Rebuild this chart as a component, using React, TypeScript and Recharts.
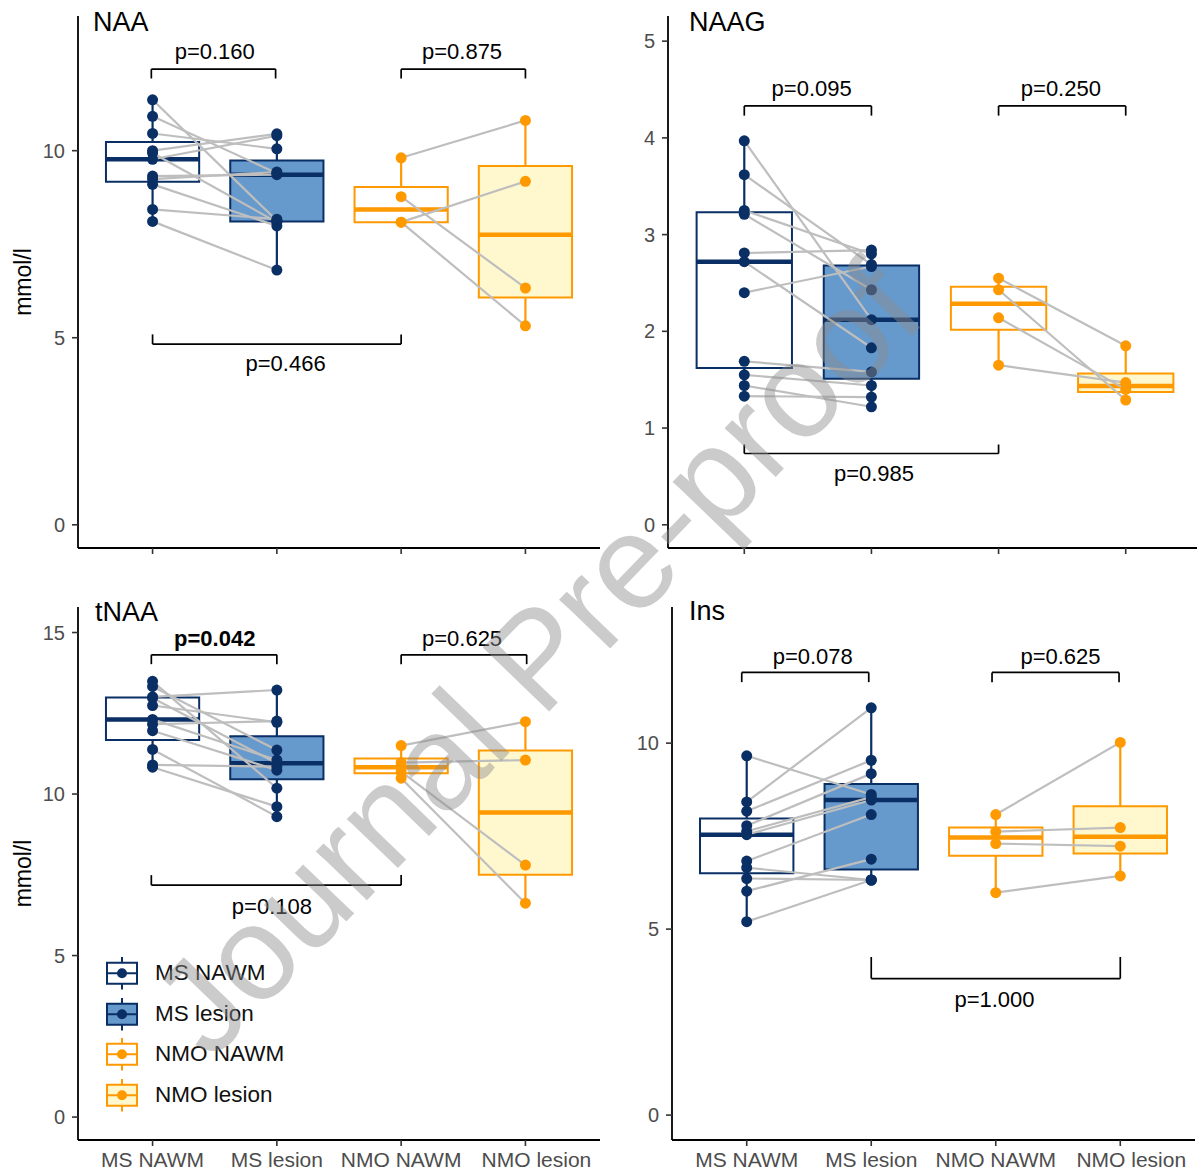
import React from 'react';
import {
  ComposedChart,
  XAxis,
  YAxis,
  Scatter,
  ReferenceArea,
  ReferenceLine,
  ReferenceDot,
  Legend,
} from 'recharts';

const FONT = '"Liberation Sans", Arial, Helvetica, sans-serif';
const NAVY = '#0A2F64';
const ORANGE = '#FF9900';
const PAIR_GREY = '#BEBEBE';
const HALF = 0.375; // half box width, in category units

const groupNames = ['MS NAWM', 'MS lesion', 'NMO NAWM', 'NMO lesion'];
const groupStroke = [NAVY, NAVY, ORANGE, ORANGE];
const groupFill = ['#FFFFFF', '#6699CC', '#FFFFFF', '#FFF8CE'];

// mmol/l per subject; NAWM and lesion arrays keep the same subject order (paired)
const naaMsNawm = [11.36, 10.92, 10.46, 10.0, 9.94, 9.77, 9.32, 9.24, 9.1, 8.43, 8.11];
const naaMsLesion = [8.13, 9.4, 10.05, 10.45, 8.09, 10.4, 9.36, 9.43, 7.99, 8.17, 6.81];
const naaNmoNawm = [9.81, 8.77, 8.09, 8.09];
const naaNmoLesion = [10.81, 6.33, 9.18, 5.32];

const naagMsNawm = [3.97, 3.62, 3.25, 3.21, 2.81, 2.72, 2.4, 1.69, 1.55, 1.44, 1.33];
const naagMsLesion = [2.12, 2.69, 2.8, 2.43, 2.84, 1.83, 2.67, 1.58, 1.44, 1.22, 1.32];
const naagNmoNawm = [2.55, 2.43, 2.14, 1.65];
const naagNmoLesion = [1.85, 1.29, 1.4, 1.47];

const tnaaMsNawm = [13.49, 13.33, 13.01, 12.97, 12.74, 12.31, 12.16, 11.96, 11.38, 10.9, 10.83];
const tnaaMsLesion = [10.18, 11.36, 13.22, 10.95, 12.22, 11.05, 12.26, 10.74, 9.3, 10.85, 9.61];
const tnaaNmoNawm = [11.5, 10.97, 10.69, 10.49];
const tnaaNmoLesion = [12.24, 11.05, 7.8, 6.62];

const insMsNawm = [9.66, 8.42, 8.17, 7.78, 7.63, 7.54, 6.83, 6.65, 6.36, 6.02, 5.2];
const insMsLesion = [8.62, 10.95, 9.54, 9.18, 8.55, 8.47, 8.08, 6.32, 6.32, 6.88, 6.32];
const insNmoNawm = [8.08, 7.62, 7.3, 5.98];
const insNmoLesion = [10.02, 7.73, 7.23, 6.43];

type Bracket = {
  from: number;
  to: number;
  y: number;
  tip: number;
  text: string;
  tx: number;
  ty: number;
  bold?: boolean;
};

const naaBrackets: Bracket[] = [
  { from: 0.99, to: 1.99, y: 12.18, tip: 11.93, text: 'p=0.160', tx: 1.5, ty: 12.66 },
  { from: 3, to: 4, y: 12.18, tip: 11.93, text: 'p=0.875', tx: 3.49, ty: 12.66 },
  { from: 1, to: 3, y: 4.83, tip: 5.09, text: 'p=0.466', tx: 2.07, ty: 4.31 },
];
const naagBrackets: Bracket[] = [
  { from: 1, to: 2, y: 4.33, tip: 4.23, text: 'p=0.095', tx: 1.53, ty: 4.51 },
  { from: 3, to: 4, y: 4.33, tip: 4.23, text: 'p=0.250', tx: 3.49, ty: 4.51 },
  { from: 1, to: 3, y: 0.737, tip: 0.83, text: 'p=0.985', tx: 2.02, ty: 0.534 },
];
const tnaaBrackets: Bracket[] = [
  { from: 0.99, to: 2, y: 14.31, tip: 14.02, text: 'p=0.042', tx: 1.5, ty: 14.82, bold: true },
  { from: 3, to: 4.01, y: 14.31, tip: 14.02, text: 'p=0.625', tx: 3.49, ty: 14.82 },
  { from: 0.99, to: 3, y: 7.18, tip: 7.49, text: 'p=0.108', tx: 1.96, ty: 6.54 },
];
const insBrackets: Bracket[] = [
  { from: 0.96, to: 1.98, y: 11.9, tip: 11.64, text: 'p=0.078', tx: 1.53, ty: 12.34 },
  { from: 2.97, to: 3.99, y: 11.9, tip: 11.64, text: 'p=0.625', tx: 3.52, ty: 12.34 },
  { from: 2, to: 4, y: 3.67, tip: 4.25, text: 'p=1.000', tx: 2.99, ty: 3.11 },
];

const naaTicks = [0, 5, 10];
const naagTicks = [0, 1, 2, 3, 4, 5];
const tnaaTicks = [0, 5, 10, 15];
const insTicks = [0, 5, 10];

// type-7 quantile, same as R's default used by geom_boxplot
function quantile(sorted: number[], p: number) {
  const h = (sorted.length - 1) * p;
  const lo = Math.floor(h);
  const next = sorted[Math.min(lo + 1, sorted.length - 1)];
  return sorted[lo] + (h - lo) * (next - sorted[lo]);
}

function boxStats(values: number[]) {
  const s = [...values].sort((a, b) => a - b);
  // no outliers in any group, whiskers run to min / max
  return { lo: s[0], q1: quantile(s, 0.25), med: quantile(s, 0.5), q3: quantile(s, 0.75), hi: s[s.length - 1] };
}

// the last category label sits a little right of its tick in the original
function GroupTick(props: any) {
  const { x, y, payload } = props;
  const idx = payload.value - 1;
  const shift = idx === 3 ? 11 : 0;
  return (
    <text x={x + shift} y={y} dy="0.71em" textAnchor="middle" fill="#4D4D4D" fontSize={21}>
      {groupNames[idx]}
    </text>
  );
}

function PairLegend() {
  return (
    <div style={{ fontFamily: FONT }}>
      {groupNames.map((name, g) => (
        <div key={name} style={{ display: 'flex', alignItems: 'center', height: 40.5 }}>
          <svg width={34} height={40.5}>
            <line x1={17} x2={17} y1={4} y2={36.5} stroke={groupStroke[g]} strokeWidth={2} />
            <rect x={2} y={9.75} width={30} height={21} fill={groupFill[g]} stroke={groupStroke[g]} strokeWidth={2} />
            <line x1={2} x2={32} y1={20.25} y2={20.25} stroke={groupStroke[g]} strokeWidth={2} />
            <circle cx={17} cy={20.25} r={5} fill={groupStroke[g]} />
          </svg>
          <span style={{ marginLeft: 16, fontSize: 22.5, color: '#111' }}>{name}</span>
        </div>
      ))}
    </div>
  );
}

type PanelProps = {
  series: number[][];
  domain: [number, number];
  ticks: number[];
  brackets: Bracket[];
  width: number;
  height: number;
  margin: { top: number; right: number; bottom: number; left: number };
  xAxisHeight: number;
  showXLabels?: boolean;
  yTitle?: boolean;
  legend?: boolean;
};

function Panel({
  series,
  domain,
  ticks,
  brackets,
  width,
  height,
  margin,
  xAxisHeight,
  showXLabels,
  yTitle,
  legend,
}: PanelProps) {
  const stats = series.map(boxStats);
  const pairs: { x: number; y: number }[][] = [];
  [[0, 1], [2, 3]].forEach(([a, b]) => {
    series[a].forEach((v, i) => {
      pairs.push([
        { x: a + 1, y: v },
        { x: b + 1, y: series[b][i] },
      ]);
    });
  });

  return (
    <ComposedChart width={width} height={height} margin={margin}>
      <XAxis
        type="number"
        dataKey="x"
        domain={[0.4, 4.6]}
        allowDataOverflow
        ticks={[1, 2, 3, 4]}
        interval={0}
        tick={showXLabels ? <GroupTick /> : () => <g />}
        tickLine={{ stroke: '#333', strokeWidth: 1.6 }}
        tickSize={6}
        tickMargin={6}
        axisLine={{ stroke: '#000', strokeWidth: 1.8 }}
        height={xAxisHeight}
      />
      <YAxis
        type="number"
        dataKey="y"
        domain={domain}
        allowDataOverflow
        ticks={ticks}
        interval={0}
        width={60}
        tick={{ fill: '#4D4D4D', fontSize: 20 }}
        tickLine={{ stroke: '#333', strokeWidth: 1.6 }}
        tickSize={6}
        tickMargin={7}
        axisLine={{ stroke: '#000', strokeWidth: 1.8 }}
        label={
          yTitle
            ? {
                value: 'mmol/l',
                angle: -90,
                position: 'insideLeft',
                offset: 5,
                fill: '#000',
                fontSize: 23,
                style: { textAnchor: 'middle' },
              }
            : undefined
        }
      />

      {stats.map((s, g) => (
        <ReferenceLine
          key={`wu${g}`}
          segment={[
            { x: g + 1, y: s.q3 },
            { x: g + 1, y: s.hi },
          ]}
          stroke={groupStroke[g]}
          strokeWidth={2.2}
          ifOverflow="visible"
          zIndex={100}
        />
      ))}
      {stats.map((s, g) => (
        <ReferenceLine
          key={`wl${g}`}
          segment={[
            { x: g + 1, y: s.lo },
            { x: g + 1, y: s.q1 },
          ]}
          stroke={groupStroke[g]}
          strokeWidth={2.2}
          ifOverflow="visible"
          zIndex={100}
        />
      ))}
      {stats.map((s, g) => (
        <ReferenceArea
          key={`box${g}`}
          x1={g + 1 - HALF}
          x2={g + 1 + HALF}
          y1={s.q1}
          y2={s.q3}
          fill={groupFill[g]}
          fillOpacity={1}
          stroke={groupStroke[g]}
          strokeWidth={2}
          ifOverflow="visible"
          zIndex={110}
        />
      ))}
      {stats.map((s, g) => (
        <ReferenceLine
          key={`med${g}`}
          segment={[
            { x: g + 1 - HALF, y: s.med },
            { x: g + 1 + HALF, y: s.med },
          ]}
          stroke={groupStroke[g]}
          strokeWidth={4.5}
          ifOverflow="visible"
          zIndex={120}
        />
      ))}

      {pairs.map((pts, k) => (
        <Scatter
          key={`pair${k}`}
          data={pts}
          line={{ stroke: PAIR_GREY, strokeWidth: 2.2 }}
          stroke={PAIR_GREY}
          fill={PAIR_GREY}
          shape={() => <g />}
          legendType="none"
          isAnimationActive={false}
          zIndex={200}
        />
      ))}

      {series.map((vals, g) => (
        <Scatter
          key={`pts${g}`}
          data={vals.map((v) => ({ x: g + 1, y: v }))}
          fill={groupStroke[g]}
          shape={(p: any) => <circle cx={p.cx} cy={p.cy} r={5.5} fill={groupStroke[g]} />}
          legendType="none"
          isAnimationActive={false}
          zIndex={300}
        />
      ))}

      {brackets.map((b, k) => (
        <ReferenceLine
          key={`bh${k}`}
          segment={[
            { x: b.from, y: b.y },
            { x: b.to, y: b.y },
          ]}
          stroke="#000"
          strokeWidth={1.7}
          ifOverflow="visible"
          zIndex={400}
        />
      ))}
      {brackets.map((b, k) => (
        <ReferenceLine
          key={`bl${k}`}
          segment={[
            { x: b.from, y: b.y },
            { x: b.from, y: b.tip },
          ]}
          stroke="#000"
          strokeWidth={1.7}
          ifOverflow="visible"
          zIndex={400}
        />
      ))}
      {brackets.map((b, k) => (
        <ReferenceLine
          key={`br${k}`}
          segment={[
            { x: b.to, y: b.y },
            { x: b.to, y: b.tip },
          ]}
          stroke="#000"
          strokeWidth={1.7}
          ifOverflow="visible"
          zIndex={400}
        />
      ))}
      {brackets.map((b, k) => (
        <ReferenceDot
          key={`bt${k}`}
          x={b.tx}
          y={b.ty}
          r={0}
          fill="none"
          stroke="none"
          ifOverflow="visible"
          zIndex={400}
          label={{
            value: b.text,
            position: 'center',
            fill: '#000',
            fontSize: 22,
            fontWeight: b.bold ? 700 : 400,
          }}
        />
      ))}

      {legend && (
        <Legend
          layout="vertical"
          align="center"
          verticalAlign="middle"
          content={() => <PairLegend />}
          wrapperStyle={{ position: 'absolute', left: 105, top: 363, width: 'auto', height: 'auto' }}
        />
      )}
    </ComposedChart>
  );
}

const titles = [
  { text: 'NAA', x: 93, y: 31 },
  { text: 'NAAG', x: 689, y: 31 },
  { text: 'tNAA', x: 95, y: 621 },
  { text: 'Ins', x: 689, y: 620 },
];

export default function App() {
  return (
    <div
      style={{
        position: 'absolute',
        left: 0,
        top: 0,
        width: 1197,
        height: 1171,
        overflow: 'hidden',
        background: '#fff',
        fontFamily: FONT,
      }}
    >
      <div style={{ position: 'absolute', left: 0, top: 0 }}>
        <Panel
          series={[naaMsNawm, naaMsLesion, naaNmoNawm, naaNmoLesion]}
          domain={[-0.62, 13.6]}
          ticks={naaTicks}
          brackets={naaBrackets}
          width={600}
          height={580}
          margin={{ top: 16, right: 0, bottom: 0, left: 18 }}
          xAxisHeight={32}
          yTitle
        />
      </div>
      <div style={{ position: 'absolute', left: 600, top: 0 }}>
        <Panel
          series={[naagMsNawm, naagMsLesion, naagNmoNawm, naagNmoLesion]}
          domain={[-0.24, 5.26]}
          ticks={naagTicks}
          brackets={naagBrackets}
          width={602}
          height={580}
          margin={{ top: 16, right: 0, bottom: 0, left: 8 }}
          xAxisHeight={32}
        />
      </div>
      <div style={{ position: 'absolute', left: 0, top: 590 }}>
        <Panel
          series={[tnaaMsNawm, tnaaMsLesion, tnaaNmoNawm, tnaaNmoLesion]}
          domain={[-0.71, 15.79]}
          ticks={tnaaTicks}
          brackets={tnaaBrackets}
          width={600}
          height={581}
          margin={{ top: 17, right: 0, bottom: 0, left: 18 }}
          xAxisHeight={31}
          showXLabels
          yTitle
          legend
        />
      </div>
      <div style={{ position: 'absolute', left: 600, top: 590 }}>
        <Panel
          series={[insMsNawm, insMsLesion, insNmoNawm, insNmoLesion]}
          domain={[-0.67, 13.66]}
          ticks={insTicks}
          brackets={insBrackets}
          width={595}
          height={581}
          margin={{ top: 17, right: 0, bottom: 0, left: 12 }}
          xAxisHeight={31}
          showXLabels
        />
      </div>

      <svg
        width={1197}
        height={1171}
        style={{ position: 'absolute', left: 0, top: 0, pointerEvents: 'none' }}
      >
        {titles.map((t) => (
          <text key={t.text} x={t.x} y={t.y} fontSize={27} fill="#000">
            {t.text}
          </text>
        ))}
        <text
          x={570}
          y={690}
          textAnchor="middle"
          fontSize={134}
          fill="#8C8C8C"
          fillOpacity={0.45}
          transform="rotate(-46 570 690)"
        >
          Journal Pre-proof
        </text>
      </svg>
    </div>
  );
}
